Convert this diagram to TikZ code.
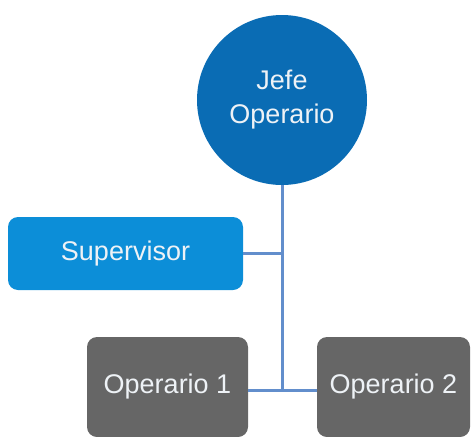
\documentclass[tikz,border=0pt]{standalone}
\usepackage{fontspec}
\setmainfont{Liberation Sans}
\usepackage{tikz}
\definecolor{jefeblue}{RGB}{10, 108, 180}
\definecolor{supblue}{RGB}{12, 142, 216}
\definecolor{opgray}{RGB}{102, 102, 102}
\definecolor{linkblue}{RGB}{98, 142, 204}
\definecolor{txt}{RGB}{238, 242, 246}
\usetikzlibrary{positioning}

\begin{document}
\begin{tikzpicture}[x=1pt, y=1pt,
  every node/.style={inner sep=0pt, text=txt, font=\fontsize{27}{34}\selectfont, align=center},
  boss/.style={circle, minimum size=170pt, fill=jefeblue},
  staff/.style={rectangle, rounded corners=10pt, fill=supblue},
  worker/.style={rectangle, rounded corners=10pt, fill=opgray},
  link/.style={line width=3pt, color=linkblue}]
\useasboundingbox (0,0) rectangle (472,-437);
\node (1) [boss] at (282, -100) {Jefe\\Operario};
\node (2) [staff, minimum width=235pt, minimum height=73pt] at (125.5, -253.5) {Supervisor};
\node (3) [worker, minimum width=161pt, minimum height=100pt] at (167.5, -387) {Operario 1};
\node (4) [worker, minimum width=153pt, minimum height=100pt] at (393.5, -387) {Operario 2};
\coordinate (j) at (282, -253.5);
\coordinate (k) at (282, -390);
\draw [link] (1) to (k);
\draw [link] (2) to (j);
\draw [link] (3.east |- k) to (4.west |- k);
\end{tikzpicture}
\end{document}
